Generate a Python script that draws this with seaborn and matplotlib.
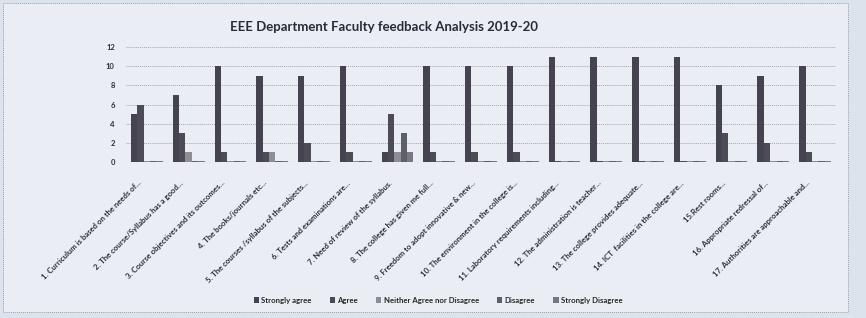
import matplotlib
matplotlib.use("Agg")
import matplotlib.pyplot as plt
import matplotlib.transforms as mtransforms
import seaborn as sns
import pandas as pd
from matplotlib.patches import Rectangle

categories = [
    "1. Curriculum is based on the needs of...",
    "2. The course/Syllabus has a good...",
    "3. Course objectives and its outcomes...",
    "4. The books/journals etc...",
    "5. The courses /syllabus of the subjects...",
    "6. Tests and examinations are...",
    "7. Need of review of the syllabus.",
    "8. The college has given me full...",
    "9. Freedom to adopt innovative & new...",
    "10. The environment in the college is...",
    "11. Laboratory requirements including...",
    "12. The administration is teacher...",
    "13. The college provides adequate...",
    "14. ICT  facilities in the college are...",
    "15.Rest rooms...",
    "16. Appropriate redressal of...",
    "17. Authorities are approachable and...",
]
series = ["Strongly agree", "Agree", "Neither Agree nor Disagree", "Disagree", "Strongly Disagree"]
strongly_agree = [5, 7, 10, 9, 9, 10, 1, 10, 10, 10, 11, 11, 11, 11, 8, 9, 10]
agree = [6, 3, 1, 1, 2, 1, 5, 1, 1, 1, 0.15, 0.15, 0.15, 0.15, 3, 2, 1]
neither = [0.15, 1, 0.15, 1, 0.15, 0.15, 1, 0.15, 0.15, 0.15, 0.15, 0.15, 0.15, 0.15, 0.15, 0.15, 0.15]
disagree = [0.15, 0.15, 0.15, 0.15, 0.15, 0.15, 3, 0.15, 0.15, 0.15, 0.15, 0.15, 0.15, 0.15, 0.15, 0.15, 0.15]
strongly_disagree = [0.15, 0.15, 0.15, 0.15, 0.15, 0.15, 1, 0.15, 0.15, 0.15, 0.15, 0.15, 0.15, 0.15, 0.15, 0.15, 0.15]
yticks = [0, 2, 4, 6, 8, 10, 12]
title = "EEE Department Faculty feedback Analysis 2019-20"

rows = []
for name, vals in zip(series, [strongly_agree, agree, neither, disagree, strongly_disagree]):
    for c, v in zip(categories, vals):
        rows.append({"Question": c, "Response": name, "Count": v})
df = pd.DataFrame(rows)

colors = ["#434152", "#4b4958", "#8d8c96", "#5e5d6a", "#777682"]

sns.set_theme(style="white")
plt.rcParams["font.family"] = ["Lato", "DejaVu Sans"]

bg = "#eaeef4"
fig = plt.figure(figsize=(8.66, 3.18), dpi=100, facecolor="#dde3ec")
# chart area panel with dotted border
fig.patches.append(Rectangle((3 / 866, 1 - 312 / 318), 845 / 866, 309 / 318,
                             transform=fig.transFigure, facecolor=bg,
                             edgecolor="#9aa0aa", linestyle=(0, (1, 1)), linewidth=0.7, zorder=-5))

ax = fig.add_axes([126 / 866, 1 - 162 / 318, 710 / 866, 115 / 318])
ax.set_zorder(5)
ax.set_facecolor("none")
sns.barplot(data=df, x="Question", y="Count", hue="Response", order=categories,
            hue_order=series, palette=colors, width=0.76, gap=0, ax=ax,
            edgecolor="none", legend=False, zorder=3)

ax.set_ylim(0, 12)
ax.set_xlim(-0.5, len(categories) - 0.5)
ax.set_yticks(yticks)
ax.set_yticklabels([str(t) for t in yticks], fontsize=5.5, fontweight="bold", color="#2e2e38")
ax.yaxis.grid(True, color="#a0a6b0", linestyle=(0, (1, 1)), linewidth=0.7, zorder=0)
ax.set_axisbelow(True)
ax.axhline(0, color="#a0a6b0", linewidth=0.8, zorder=2)
for s in ax.spines.values():
    s.set_visible(False)
ax.tick_params(axis="both", length=0)
ax.tick_params(axis="y", pad=8)
ax.tick_params(axis="x", pad=6)
ax.set_xticks(range(len(categories)))
ax.set_xticklabels(categories, rotation=45, ha="right", rotation_mode="anchor",
                   fontsize=5.6, fontweight="bold", color="#2e2e38")
offset = mtransforms.ScaledTranslation(-9 / 100, -9 / 100, fig.dpi_scale_trans)
for lbl in ax.get_xticklabels():
    lbl.set_transform(lbl.get_transform() + offset)
ax.set_xlabel("")
ax.set_ylabel("")

fig.text(384 / 866, 1 - 27 / 318, title, ha="center", va="center",
         fontsize=9.5, fontweight="bold", color="#2a2a38")

handles = [Rectangle((0, 0), 1, 1, facecolor=c, edgecolor="none") for c in colors]
fig.legend(handles, series, loc="center", bbox_to_anchor=(438 / 866, 1 - 300 / 318),
           ncol=5, frameon=False, prop={"weight": "bold", "size": 5.6},
           handlelength=0.7, handleheight=0.7, handletextpad=0.3, columnspacing=2.3)

fig.savefig("out.png", dpi=100, facecolor=fig.get_facecolor())
